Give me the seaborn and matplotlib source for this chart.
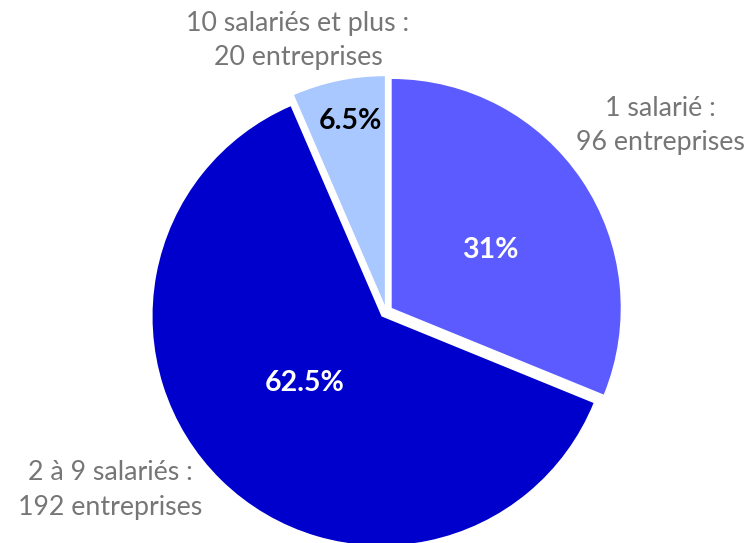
import matplotlib
matplotlib.use("Agg")
import matplotlib.pyplot as plt
import seaborn as sns

categories = ["1 salarié", "2 à 9 salariés", "10 salariés et plus"]
entreprises = [96, 192, 20]
percent_labels = ["31%", "62.5%", "6.5%"]
outer_labels = ["1 salarié :\n96 entreprises",
                "2 à 9 salariés :\n192 entreprises",
                "10 salariés et plus :\n20 entreprises"]
colors = ["#5B5BFF", "#0000CC", "#A9C8FF"]
pct_colors = ["white", "white", "black"]

sns.set_theme(style="white")
plt.rcParams['font.family'] = ['Lato', 'DejaVu Sans']

W, H = 750, 543
fig = plt.figure(figsize=(W / 100, H / 100), dpi=100)
ax = fig.add_axes([0, 0, 1, 1])

R = 229.0
cx, cy = 386.2, 311.7  # pixel center

wedges, _ = ax.pie(entreprises, colors=colors, startangle=90, counterclock=False,
                   radius=1.0, explode=[0.029] * 3,
                   wedgeprops=dict(linewidth=0))

ax.set_xlim(-cx / R, (W - cx) / R)
ax.set_ylim(-(H - cy) / R, cy / R)
ax.set_aspect('equal')
ax.axis('off')

def px(x, y):
    return ((x - cx) / R, (cy - y) / R)

pct_pos = [(490, 250), (305, 383), (350, 121)]
for (x, y), t, c in zip(pct_pos, percent_labels, pct_colors):
    ax.text(*px(x, y), t, ha='center', va='center', fontsize=20.5,
            fontweight='bold', color=c)

outer_pos = [(660, 125), (110, 490), (298, 40)]
for (x, y), t in zip(outer_pos, outer_labels):
    ax.text(*px(x, y), t, ha='center', va='center', fontsize=19.3,
            color='#767676', linespacing=1.45)

fig.savefig("out.png", dpi=100)
